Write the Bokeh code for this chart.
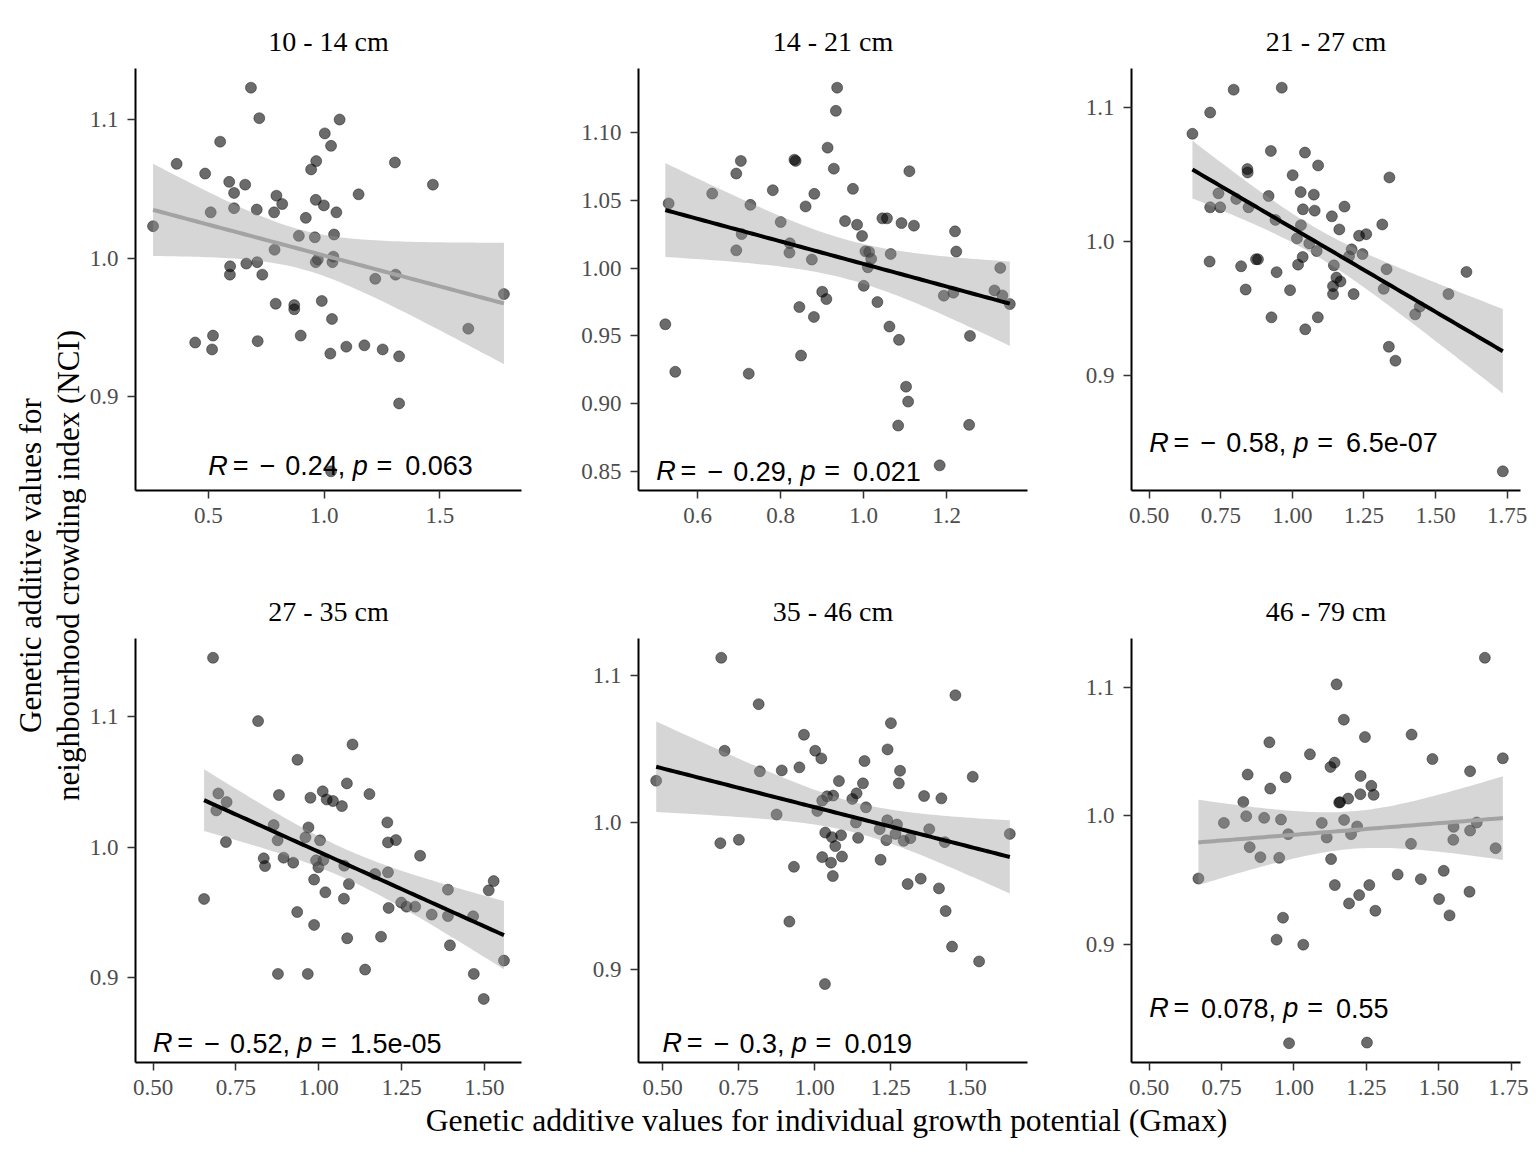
import numpy as np
from bokeh.plotting import figure
from bokeh.models import Range1d, FixedTicker, Label, PrintfTickFormatter
from bokeh.layouts import row, column
from bokeh.embed import file_html
from bokeh.resources import INLINE

# ---------------- data ----------------
panel_titles = ["10 - 14 cm", "14 - 21 cm", "21 - 27 cm", "27 - 35 cm", "35 - 46 cm", "46 - 79 cm"]
x_title = "Genetic additive values for individual growth potential (Gmax)"
y_title_lines = ["Genetic additive values for", "neighbourhood crowding index (NCI)"]

x1 = [0.261, 0.363, 0.486, 0.510, 0.443, 0.520, 0.516, 0.551, 0.590, 0.611, 0.611, 0.594, 0.593,
      0.659, 0.664, 0.684, 0.720, 0.709, 0.711, 0.733, 0.713, 0.784, 0.794, 0.819, 0.786, 0.791,
      0.871, 0.871, 0.899, 0.891, 0.921, 0.944, 0.966, 0.960, 0.964, 0.999, 0.973, 0.964, 0.990,
      1.003, 1.030, 1.067, 1.053, 1.043, 1.040, 1.036, 1.034, 1.027, 1.030, 1.096, 1.149, 1.174,
      1.221, 1.253, 1.306, 1.309, 1.324, 1.324, 1.470, 1.623, 1.777]
y1 = [1.023, 1.068, 1.061, 1.033, 0.939, 0.944, 0.934, 1.084, 1.055, 1.047, 1.036, 0.994, 0.988,
      1.053, 0.996, 1.123, 1.101, 1.035, 0.997, 0.988, 0.940, 1.033, 1.045, 1.039, 1.006, 0.967,
      0.966, 0.963, 0.944, 1.016, 1.029, 1.064, 1.070, 1.015, 1.042, 1.038, 0.999, 0.997, 0.969,
      1.090, 1.081, 1.100, 1.033, 1.017, 1.001, 0.997, 0.956, 0.931, 0.846, 0.936, 1.046, 0.937,
      0.985, 0.934, 1.069, 0.988, 0.929, 0.895, 1.053, 0.949, 0.974]

x2 = [0.522, 0.530, 0.546, 0.635, 0.693, 0.704, 0.693, 0.706, 0.727, 0.723, 0.781, 0.800, 0.822,
      0.821, 0.833, 0.836, 0.860, 0.881, 0.875, 0.845, 0.849, 0.880, 0.900, 0.910, 0.913, 0.928,
      0.933, 0.936, 0.955, 0.974, 0.984, 0.996, 1.000, 1.004, 1.013, 1.010, 1.018, 1.033, 1.045,
      1.056, 1.065, 1.062, 1.085, 1.083, 1.091, 1.102, 1.107, 1.110, 1.121, 1.183, 1.193, 1.216,
      1.220, 1.223, 1.256, 1.254, 1.315, 1.329, 1.334, 1.352]
y2 = [0.9586, 1.0478, 0.9235, 1.0551, 1.0699, 1.0792, 1.0132, 1.0252, 1.0468, 0.9221, 1.0576,
      1.0341, 1.0184, 1.0115, 1.0801, 1.0792, 1.0456, 1.0549, 1.0064, 0.9713, 0.9355, 0.9640,
      0.9826, 0.9772, 1.0890, 1.0735, 1.1162, 1.1333, 1.0348, 1.0586, 1.0321, 1.0238, 0.9870,
      1.0125, 1.0120, 1.0007, 1.0069, 0.9750, 1.0368, 1.0368, 1.0105, 0.9569, 0.9471, 0.8838,
      1.0333, 0.9125, 0.9015, 1.0716, 1.0314, 0.8544, 0.9797, 0.9819, 1.0272, 1.0123, 0.9500,
      0.8843, 0.9836, 1.0002, 0.9799, 0.9735]

x3 = [0.651, 0.713, 0.795, 0.963, 0.713, 0.742, 0.748, 0.711, 0.804, 0.821, 0.837, 0.843, 0.844,
      0.847, 0.873, 0.880, 0.917, 0.925, 0.941, 0.945, 0.927, 0.992, 1.001, 1.016, 1.020, 1.029,
      1.030, 1.036, 1.037, 1.044, 1.045, 1.059, 1.075, 1.078, 1.085, 1.090, 1.089, 1.138, 1.145,
      1.154, 1.168, 1.142, 1.142, 1.164, 1.182, 1.198, 1.207, 1.214, 1.233, 1.245, 1.258, 1.314,
      1.319, 1.329, 1.337, 1.339, 1.360, 1.429, 1.445, 1.545, 1.608, 1.735]
y3 = [1.0801, 1.0959, 1.1129, 1.1144, 1.0254, 1.0358, 1.0254, 0.9850, 1.0316, 0.9815, 0.9642,
      1.0538, 1.0513, 1.0254, 0.9867, 0.9867, 1.0338, 1.0673, 1.0160, 0.9771, 0.9435, 0.9637,
      1.0493, 1.0022, 0.9827, 1.0367, 1.0121, 0.9884, 1.0239, 1.0661, 0.9346, 0.9985, 1.0348,
      1.0229, 0.9928, 1.0565, 0.9435, 1.0187, 0.9822, 0.9731, 0.9702, 0.9667, 0.9608, 1.0089,
      1.0259, 0.9889, 0.9941, 0.9608, 1.0042, 0.9906, 1.0054, 1.0126, 0.9647, 0.9793, 0.9216,
      1.0476, 0.9112, 0.9457, 0.9514, 0.9608, 0.9773, 0.8289]

x4 = [0.681, 0.654, 0.697, 0.691, 0.722, 0.720, 0.817, 0.834, 0.838, 0.864, 0.876, 0.880, 0.877,
      0.894, 0.923, 0.936, 0.935, 0.960, 0.969, 0.975, 0.967, 0.986, 0.986, 0.992, 0.999, 1.004,
      1.014, 1.012, 1.024, 1.020, 1.043, 1.070, 1.077, 1.076, 1.085, 1.091, 1.086, 1.102, 1.140,
      1.153, 1.170, 1.188, 1.207, 1.209, 1.209, 1.211, 1.233, 1.249, 1.265, 1.291, 1.306, 1.341,
      1.390, 1.390, 1.396, 1.466, 1.468, 1.498, 1.513, 1.528, 1.559]
y4 = [1.1452, 0.9605, 1.0413, 1.0283, 1.0347, 1.0041, 1.0967, 0.9916, 0.9857, 1.0171, 1.0054,
      1.0401, 0.9031, 0.9921, 0.9883, 1.0671, 0.9505, 1.0077, 1.0153, 1.0380, 0.9031, 0.9753,
      0.9406, 0.9901, 0.9847, 1.0054, 0.9903, 1.0429, 1.0367, 0.9656, 1.0355, 1.0316, 0.9860,
      0.9607, 1.0490, 0.9719, 0.9304, 1.0788, 0.9064, 1.0408, 0.9796, 0.9316, 1.0191, 1.0038,
      0.9809, 0.9536, 1.0056, 0.9577, 0.9546, 0.9546, 0.9936, 0.9485, 0.9676, 0.9474, 0.9250,
      0.9472, 0.9031, 0.8839, 0.9671, 0.9742, 0.9133]

x5 = [0.479, 0.693, 0.690, 0.704, 0.751, 0.816, 0.820, 0.875, 0.892, 0.917, 0.932, 0.950, 0.965,
      1.002, 1.022, 1.009, 1.025, 1.041, 1.061, 1.035, 1.025, 1.054, 1.060, 1.057, 1.068, 1.087,
      1.090, 1.080, 1.034, 1.124, 1.138, 1.136, 1.143, 1.159, 1.164, 1.169, 1.217, 1.214, 1.236,
      1.239, 1.240, 1.251, 1.266, 1.271, 1.277, 1.281, 1.293, 1.306, 1.315, 1.349, 1.360, 1.377,
      1.409, 1.417, 1.428, 1.431, 1.452, 1.463, 1.520, 1.541, 1.642]
y5 = [1.0287, 1.1124, 0.9862, 1.0491, 0.9885, 1.0808, 1.0351, 1.0057, 1.0357, 0.9328, 0.9701,
      1.0378, 1.0600, 1.0491, 1.0439, 1.0081, 1.0152, 1.0181, 1.0186, 0.9934, 0.9767, 0.9729,
      0.9638, 0.9903, 0.9842, 0.9916, 0.9771, 1.0285, 0.8903, 1.0163, 1.0201, 1.0002, 0.9898,
      1.0269, 1.0421, 1.0106, 0.9749, 0.9957, 0.9882, 1.0018, 1.0500, 1.0679, 0.9925, 0.9989,
      1.0269, 1.0355, 0.9878, 0.9584, 0.9896, 0.9620, 1.0183, 0.9957, 0.9554, 1.0167, 0.9869,
      0.9400, 0.9158, 1.0869, 1.0314, 0.9057, 0.9925]

x6 = [0.670, 0.758, 0.825, 0.835, 0.840, 0.847, 0.884, 0.897, 0.915, 0.918, 0.949, 0.955, 0.971,
      0.980, 0.962, 0.940, 0.983, 1.032, 1.055, 1.096, 1.113, 1.126, 1.140, 1.128, 1.141, 1.147,
      1.156, 1.159, 1.172, 1.173, 1.187, 1.197, 1.190, 1.218, 1.225, 1.230, 1.229, 1.245, 1.267,
      1.275, 1.260, 1.281, 1.252, 1.358, 1.404, 1.406, 1.438, 1.478, 1.501, 1.517, 1.537, 1.551,
      1.550, 1.606, 1.608, 1.608, 1.631, 1.659, 1.696, 1.721]
y6 = [0.9510, 0.9943, 1.0106, 0.9995, 1.0319, 0.9754, 0.9676, 0.9982, 1.0570, 1.0210, 0.9671,
      0.9969, 1.0298, 0.9855, 0.9205, 0.9034, 0.8228, 0.8995, 1.0477, 0.9943, 0.9829, 1.0378,
      1.0412, 0.9661, 0.9459, 1.1021, 1.0101, 1.0104, 1.0746, 0.9966, 1.0132, 0.9855, 0.9316,
      0.9915, 0.9381, 1.0308, 1.0166, 1.0611, 1.0231, 1.0161, 0.9459, 0.9259, 0.8233, 0.9541,
      0.9780, 1.0630, 0.9505, 1.0440, 0.9350, 0.9570, 0.9223, 0.9912, 0.9811, 0.9407, 0.9883,
      1.0345, 0.9946, 1.1228, 0.9746, 1.0446]

xs_all = [x1, x2, x3, x4, x5, x6]
ys_all = [y1, y2, y3, y4, y5, y6]

r_text = ["\u22120.24", "\u22120.29", "\u22120.58", "\u22120.52", "\u22120.3", "0.078"]
p_text = ["0.063", "0.021", "6.5e-07", "1.5e-05", "0.019", "0.55"]
p_values = [0.063, 0.021, 6.5e-07, 1.5e-05, 0.019, 0.55]
label_x = 0.5
label_y = 0.85

xticks = [[0.5, 1.0, 1.5],
          [0.6, 0.8, 1.0, 1.2],
          [0.5, 0.75, 1.0, 1.25, 1.5, 1.75],
          [0.5, 0.75, 1.0, 1.25, 1.5],
          [0.5, 0.75, 1.0, 1.25, 1.5],
          [0.5, 0.75, 1.0, 1.25, 1.5, 1.75]]
xtick_labels = [["0.5", "1.0", "1.5"],
                ["0.6", "0.8", "1.0", "1.2"],
                ["0.50", "0.75", "1.00", "1.25", "1.50", "1.75"],
                ["0.50", "0.75", "1.00", "1.25", "1.50"],
                ["0.50", "0.75", "1.00", "1.25", "1.50"],
                ["0.50", "0.75", "1.00", "1.25", "1.50", "1.75"]]
yticks = [[0.9, 1.0, 1.1],
          [0.85, 0.90, 0.95, 1.00, 1.05, 1.10],
          [0.9, 1.0, 1.1],
          [0.9, 1.0, 1.1],
          [0.9, 1.0, 1.1],
          [0.9, 1.0, 1.1]]
ytick_labels = [["0.9", "1.0", "1.1"],
                ["0.85", "0.90", "0.95", "1.00", "1.05", "1.10"],
                ["0.9", "1.0", "1.1"],
                ["0.9", "1.0", "1.1"],
                ["0.9", "1.0", "1.1"],
                ["0.9", "1.0", "1.1"]]

# ---------------- style / layout ----------------
T975 = 2.0
SERIF = "Liberation Serif"
SANS = "Liberation Sans"
ANN_PX = 27

# Arial/Liberation Sans advance widths (em)
CW = {"0": .556, "1": .556, "2": .556, "3": .556, "4": .556, "5": .556, "6": .556, "7": .556,
      "8": .556, "9": .556, ".": .278, ",": .278, "e": .556, "-": .333, " ": .278}


def tw(s):
    return sum(CW.get(c, .556) for c in s) * ANN_PX


def pieces(r, pv):
    out = [("R", 0.0, True), ("=", 0.9 * ANN_PX, False)]
    if r.startswith("\u2212"):
        out.append(("\u2212", 1.9 * ANN_PX, False))
        num = r[1:]
        start = 2.85 * ANN_PX
    else:
        num = r
        start = 1.92 * ANN_PX
    out.append((num + ",", start, False))
    ps = start + tw(num + ",") + 0.27 * ANN_PX
    out.append(("p", ps, True))
    out.append(("=", ps + 0.88 * ANN_PX, False))
    out.append((pv, ps + 1.95 * ANN_PX, False))
    return out


def make_panel(i, bl, fw, br, bt, fh, bb):
    x = np.array(xs_all[i], dtype=float)
    y = np.array(ys_all[i], dtype=float)
    n = len(x)
    b, a = np.polyfit(x, y, 1)
    xg = np.linspace(x.min(), x.max(), 80)
    yg = a + b * xg
    resid = y - (a + b * x)
    s = np.sqrt(np.sum(resid ** 2) / (n - 2))
    sxx = np.sum((x - x.mean()) ** 2)
    se = s * np.sqrt(1.0 / n + (xg - x.mean()) ** 2 / sxx)
    lo = yg - T975 * se
    hi = yg + T975 * se

    xlo = min(x.min(), label_x); xhi = max(x.max(), label_x)
    ylo = min(y.min(), lo.min(), label_y); yhi = max(y.max(), hi.max(), label_y)
    px = 0.05 * (xhi - xlo); py = 0.05 * (yhi - ylo)

    p = figure(width=bl + fw + br, height=bt + fh + bb,
               x_range=Range1d(xlo - px, xhi + px), y_range=Range1d(ylo - py, yhi + py),
               min_border_left=bl, min_border_right=br, min_border_top=bt, min_border_bottom=bb,
               output_backend="svg", toolbar_location=None,
               background_fill_color="white", border_fill_color="white")
    p.outline_line_color = None
    p.grid.visible = False

    p.title.text = panel_titles[i]
    p.title.align = "center"
    p.title.text_font = SERIF
    p.title.text_font_size = "28px"
    p.title.text_font_style = "normal"
    p.title.text_color = "black"
    p.title.standoff = 23

    p.scatter(x, y, size=11, fill_color="black", fill_alpha=0.58,
              line_color="black", line_alpha=0.4, line_width=1)
    p.varea(x=xg, y1=lo, y2=hi, fill_color="#999999", fill_alpha=0.4)
    col = "black" if p_values[i] < 0.05 else "#a3a3a3"
    p.line(xg, yg, line_color=col, line_width=4)

    p.xaxis.ticker = FixedTicker(ticks=xticks[i])
    p.xaxis.major_label_overrides = {t: l for t, l in zip(xticks[i], xtick_labels[i])}
    xdec = max(len(l.split(".")[1]) for l in xtick_labels[i])
    p.xaxis.formatter = PrintfTickFormatter(format="%%.%df" % xdec)
    p.yaxis.ticker = FixedTicker(ticks=yticks[i])
    p.yaxis.major_label_overrides = {t: l for t, l in zip(yticks[i], ytick_labels[i])}
    ydec = max(len(l.split(".")[1]) for l in ytick_labels[i])
    p.yaxis.formatter = PrintfTickFormatter(format="%%.%df" % ydec)

    for ax in (p.xaxis[0], p.yaxis[0]):
        ax.axis_line_width = 2
        ax.axis_line_color = "black"
        ax.major_tick_line_color = "#333333"
        ax.major_tick_line_width = 1.5
        ax.major_tick_out = 8
        ax.major_tick_in = 0
        ax.minor_tick_line_color = None
        ax.major_label_text_font = SERIF
        ax.major_label_text_font_size = "23px"
        ax.major_label_text_color = "#4d4d4d"
    p.xaxis.major_label_standoff = 9
    p.yaxis.major_label_standoff = 9

    for txt, off, ital in pieces(r_text[i], p_text[i]):
        p.add_layout(Label(x=label_x, y=label_y, x_offset=off, text=txt,
                           text_font=SANS, text_font_size="%dpx" % ANN_PX,
                           text_font_style="italic" if ital else "normal",
                           text_baseline="middle", text_align="left", text_color="black"))
    return p


YLAB_W = 86
TOTAL_W = 1528

cols = [(47, 388, 50), (67, 389, 54), (50, 389, 8)]
rows = [(68, 422, 78), (70, 424, 40)]
ROW_H = [bt + fh + bb for (bt, fh, bb) in rows]

figs = []
for r_i, (bt, fh, bb) in enumerate(rows):
    rr = []
    for c_i, (bl, fw, br) in enumerate(cols):
        rr.append(make_panel(r_i * 3 + c_i, bl, fw, br, bt, fh, bb))
    figs.append(rr)

# y-axis title strip
ylab_h = sum(ROW_H)
ylab = figure(width=YLAB_W, height=ylab_h, x_range=Range1d(0, YLAB_W), y_range=Range1d(0, ylab_h),
              min_border=0, x_axis_location=None, y_axis_location=None,
              output_backend="svg", toolbar_location=None)
ylab.outline_line_color = None
ylab.grid.visible = False
for k, xc in enumerate([30, 68]):
    ylab.add_layout(Label(x=xc, y=ylab_h - 565, text=y_title_lines[k], angle=np.pi / 2,
                          text_font=SERIF, text_font_size="31px", text_align="center",
                          text_baseline="middle", text_color="black"))

# x-axis title strip
XLAB_H = 42
xlab = figure(width=TOTAL_W, height=XLAB_H, x_range=Range1d(0, TOTAL_W), y_range=Range1d(0, XLAB_H),
              min_border=0, x_axis_location=None, y_axis_location=None,
              output_backend="svg", toolbar_location=None)
xlab.outline_line_color = None
xlab.grid.visible = False
xlab.add_layout(Label(x=826, y=XLAB_H - 18, text=x_title, text_font=SERIF, text_font_size="31.7px",
                      text_align="center", text_baseline="middle", text_color="black"))

layout = column(row(ylab, column(row(*figs[0]), row(*figs[1]))), xlab)

open("out.html", "w").write(file_html(layout, INLINE))
